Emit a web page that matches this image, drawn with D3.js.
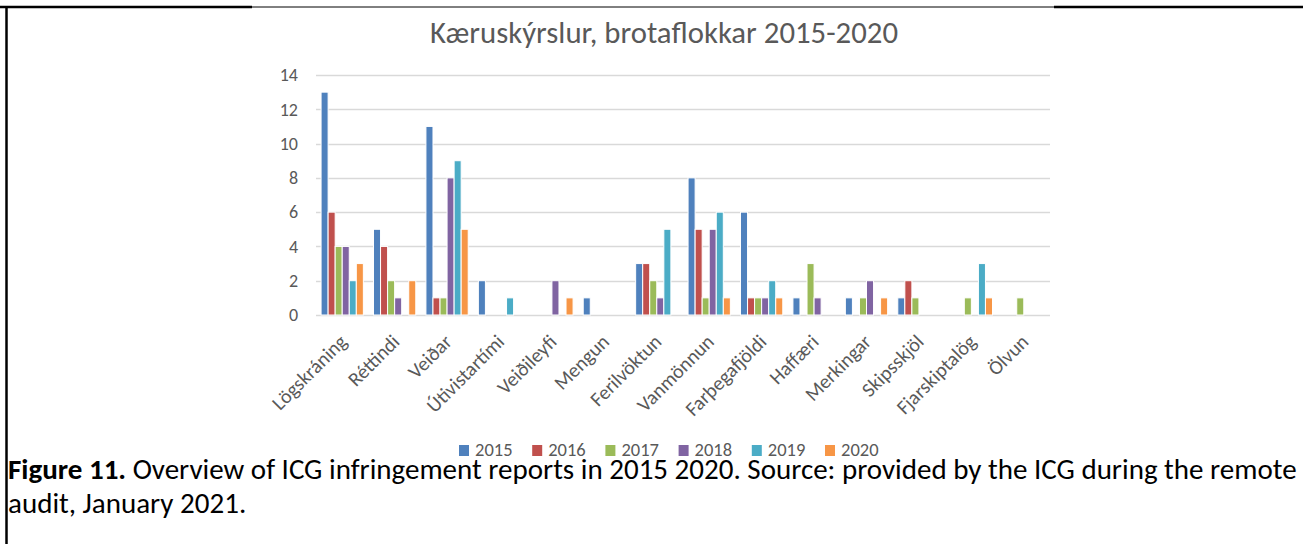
<!DOCTYPE html>
<html>
<head>
<meta charset="utf-8">
<script src="https://cdn.jsdelivr.net/npm/d3@7"></script>
<style>
  body { margin: 0; background: #fff; }
  svg { display: block; }
  .tick text, .catLabel, .legendText { fill: #595959; font-family: Carlito, "Open Sans", sans-serif; }
</style>
</head>
<body>
<script>
// Chart data
var categories = ["Lögskráning", "Réttindi", "Veiðar", "Útivistartími", "Veiðileyfi", "Mengun",
  "Ferilvöktun", "Vanmönnun", "Farþegafjöldi", "Haffæri", "Merkingar", "Skipsskjöl",
  "Fjarskiptalög", "Ölvun"];
var years = ["2015", "2016", "2017", "2018", "2019", "2020"];
var v2015 = [13, 5, 11, 2, 0, 1, 3, 8, 6, 1, 1, 1, 0, 0];
var v2016 = [6, 4, 1, 0, 0, 0, 3, 5, 1, 0, 0, 2, 0, 0];
var v2017 = [4, 2, 1, 0, 0, 0, 2, 1, 1, 3, 1, 1, 1, 1];
var v2018 = [4, 1, 8, 0, 2, 0, 1, 5, 1, 1, 2, 0, 0, 0];
var v2019 = [2, 0, 9, 1, 0, 0, 5, 6, 2, 0, 0, 0, 3, 0];
var v2020 = [3, 2, 5, 0, 1, 0, 0, 1, 1, 0, 1, 0, 1, 0];
var yTicks = [0, 2, 4, 6, 8, 10, 12, 14];
var colors = ["#4F81BD", "#C0504D", "#9BBB59", "#8064A2", "#4BACC6", "#F79646"];

var seriesValues = [v2015, v2016, v2017, v2018, v2019, v2020];

var svgWidth = 1303;
var svgHeight = 544;

var svg = d3.select("body")
  .append("svg")
  .attr("width", svgWidth)
  .attr("height", svgHeight);

// Page frame lines (document table border)
svg.append("line").attr("x1", 0).attr("x2", 252).attr("y1", 7).attr("y2", 7)
  .attr("stroke", "#000").attr("stroke-width", 2.5);
svg.append("line").attr("x1", 252).attr("x2", 1054).attr("y1", 7).attr("y2", 7)
  .attr("stroke", "#000").attr("stroke-width", 1);
svg.append("line").attr("x1", 1054).attr("x2", 1303).attr("y1", 7).attr("y2", 7)
  .attr("stroke", "#000").attr("stroke-width", 2.5);
svg.append("line").attr("x1", 6.5).attr("x2", 6.5).attr("y1", 6).attr("y2", 544)
  .attr("stroke", "#000").attr("stroke-width", 2.5);

// Title
svg.append("text")
  .attr("x", 664)
  .attr("y", 43)
  .attr("text-anchor", "middle")
  .attr("fill", "#595959")
  .style("font-family", "Carlito, 'Open Sans', sans-serif")
  .style("font-size", "30px")
  .attr("textLength", 468)
  .attr("lengthAdjust", "spacingAndGlyphs")
  .text("Kæruskýrslur, brotaflokkar 2015-2020");

// Scales
var plotLeft = 316, plotRight = 1050, plotTop = 75, plotBottom = 315;

var x0 = d3.scaleBand()
  .domain(categories)
  .range([plotLeft, plotRight])
  .padding(0);

var x1 = d3.scaleBand()
  .domain(years)
  .range([0, x0.bandwidth()])
  .paddingInner(0)
  .paddingOuter(0.72);

var y = d3.scaleLinear()
  .domain([0, 14])
  .range([plotBottom, plotTop]);

// Gridlines
svg.append("g")
  .selectAll("line")
  .data(yTicks)
  .enter()
  .append("line")
  .attr("x1", plotLeft)
  .attr("x2", plotRight)
  .attr("y1", d => Math.round(y(d)) + 0.5)
  .attr("y2", d => Math.round(y(d)) + 0.5)
  .attr("stroke", "#d9d9d9")
  .attr("stroke-width", 1.5);

// Y axis labels
var yAxis = d3.axisLeft(y).tickValues(yTicks).tickSize(0).tickPadding(0);
var yAxisG = svg.append("g")
  .attr("transform", `translate(298, 0)`)
  .call(yAxis);
yAxisG.select(".domain").remove();
yAxisG.selectAll(".tick text").style("font-size", "18px");

// Bars
var barData = [];
categories.forEach(function(cat, i) {
  years.forEach(function(yr, j) {
    barData.push({ cat: cat, year: yr, value: seriesValues[j][i], color: colors[j] });
  });
});

svg.append("g")
  .selectAll("rect")
  .data(barData.filter(d => d.value > 0))
  .enter()
  .append("rect")
  .attr("x", d => x0(d.cat) + x1(d.year))
  .attr("y", d => y(d.value))
  .attr("width", x1.bandwidth())
  .attr("height", d => y(0) - y(d.value))
  .attr("fill", d => d.color)
  .attr("stroke", "#fff")
  .attr("stroke-width", 1);

// Category labels
svg.append("g")
  .selectAll("text")
  .data(categories)
  .enter()
  .append("text")
  .attr("class", "catLabel")
  .attr("text-anchor", "end")
  .attr("transform", d => `translate(${x0(d) + x0.bandwidth() / 2 + 6}, ${plotBottom + 28}) rotate(-45)`)
  .style("font-size", "20px")
  .text(d => d);

// Legend
var legend = svg.append("g")
  .selectAll("g")
  .data(years)
  .enter()
  .append("g")
  .attr("transform", (d, i) => `translate(${459 + i * 73.2}, 445)`);

legend.append("rect")
  .attr("width", 10)
  .attr("height", 11)
  .attr("fill", (d, i) => colors[i]);

legend.append("text")
  .attr("class", "legendText")
  .attr("x", 16)
  .attr("y", 11)
  .style("font-size", "18.5px")
  .text(d => d);

// Caption, sized so the first line fills the cell width
var capFont = "Carlito, 'Open Sans', sans-serif";
var cap1 = svg.append("text")
  .attr("x", 8)
  .attr("y", 479)
  .attr("fill", "#000")
  .style("font-family", capFont)
  .style("font-size", "24px");
cap1.append("tspan").style("font-weight", "bold").text("Figure 11.");
cap1.append("tspan").text(" Overview of ICG infringement reports in 2015 2020. Source: provided by the ICG during the remote");

var capSize = 24 * 1289 / cap1.node().getComputedTextLength();
cap1.style("font-size", capSize + "px");

svg.append("text")
  .attr("x", 8)
  .attr("y", 513)
  .attr("fill", "#000")
  .style("font-family", capFont)
  .style("font-size", capSize + "px")
  .text("audit, January 2021.");
</script>
</body>
</html>
